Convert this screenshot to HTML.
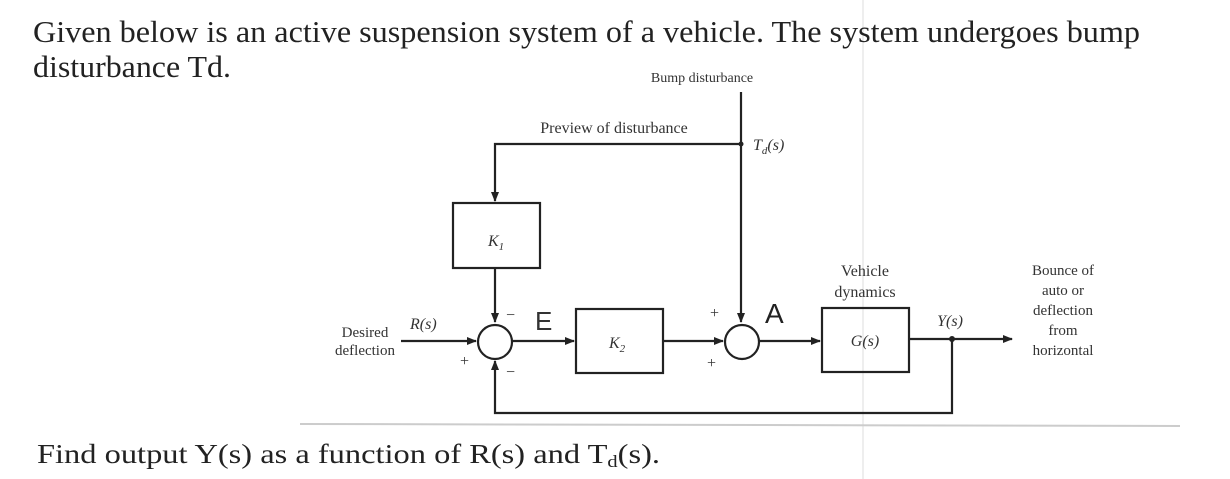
<!DOCTYPE html>
<html><head><meta charset="utf-8"><style>
html,body{margin:0;padding:0;background:#fff;}
svg{display:block;}
</style></head><body>
<svg width="1230" height="479" viewBox="0 0 1230 479" xmlns="http://www.w3.org/2000/svg" font-family="Liberation Serif, serif" fill="#222">
<defs><marker id="a" markerWidth="10" markerHeight="8" refX="9" refY="4" orient="auto" markerUnits="userSpaceOnUse"><path d="M0,0 L10,4 L0,8 z" fill="#222"/></marker></defs>
<line x1="863" y1="0" x2="863" y2="479" stroke="#ddd" stroke-width="1"/>
<text x="33" y="42" font-size="31" textLength="1107" lengthAdjust="spacingAndGlyphs">Given below is an active suspension system of a vehicle. The system undergoes bump</text>
<text x="33" y="77" font-size="31" textLength="198" lengthAdjust="spacingAndGlyphs">disturbance Td.</text>
<text x="37" y="463" font-size="27" textLength="623" lengthAdjust="spacingAndGlyphs">Find output Y(s) as a function of R(s) and T<tspan font-size="17" dy="4">d</tspan><tspan dy="-4">(s).</tspan></text>
<g stroke="#222" stroke-width="2.2" fill="none">
<line x1="741" y1="92" x2="741" y2="322" marker-end="url(#a)"/>
<polyline points="741,144 495,144 495,201" marker-end="url(#a)"/>
<rect x="453" y="203" width="87" height="65"/>
<line x1="495" y1="268" x2="495" y2="322" marker-end="url(#a)"/>
<circle cx="495" cy="342" r="17"/>
<circle cx="742" cy="342" r="17"/>
<line x1="401" y1="341" x2="476" y2="341" marker-end="url(#a)"/>
<line x1="512" y1="341" x2="574" y2="341" marker-end="url(#a)"/>
<rect x="576" y="309" width="87" height="64"/>
<line x1="663" y1="341" x2="723" y2="341" marker-end="url(#a)"/>
<line x1="759" y1="341" x2="820" y2="341" marker-end="url(#a)"/>
<rect x="822" y="308" width="87" height="64"/>
<line x1="909" y1="339" x2="1012" y2="339" marker-end="url(#a)"/>
<polyline points="952,339 952,413 495,413 495,361" marker-end="url(#a)"/>
</g>
<circle cx="952" cy="339" r="3" fill="#222"/>
<circle cx="741" cy="144" r="2.5" fill="#222"/>
<line x1="300" y1="424" x2="1180" y2="426" stroke="#ccc" stroke-width="2"/>
<g font-size="16" fill="#333">
<text x="702" y="82" font-size="14" text-anchor="middle">Bump disturbance</text>
<text x="614" y="133" text-anchor="middle">Preview of disturbance</text>
<text x="753" y="150" font-style="italic">T<tspan font-size="11" dy="4">d</tspan><tspan dy="-4">(s)</tspan></text>
<text x="488" y="246" font-style="italic">K<tspan font-size="11" dy="4">1</tspan></text>
<text x="609" y="348" font-style="italic">K<tspan font-size="11" dy="4">2</tspan></text>
<text x="865" y="346" font-style="italic" text-anchor="middle">G(s)</text>
<text x="865" y="276" text-anchor="middle">Vehicle</text>
<text x="865" y="297" text-anchor="middle">dynamics</text>
<text x="950" y="326" font-style="italic" text-anchor="middle">Y(s)</text>
<text x="410" y="329" font-style="italic">R(s)</text>
<text x="365" y="337" text-anchor="middle" font-size="15">Desired</text>
<text x="365" y="355" text-anchor="middle" font-size="15">deflection</text>
<text x="1063" y="275" text-anchor="middle" font-size="15">Bounce of</text>
<text x="1063" y="295" text-anchor="middle" font-size="15">auto or</text>
<text x="1063" y="315" text-anchor="middle" font-size="15">deflection</text>
<text x="1063" y="335" text-anchor="middle" font-size="15">from</text>
<text x="1063" y="355" text-anchor="middle" font-size="15">horizontal</text>
<text x="460" y="366">+</text>
<text x="506" y="320">−</text>
<text x="506" y="377">−</text>
<text x="710" y="318">+</text>
<text x="707" y="368">+</text>
</g>
<text x="535" y="330" font-family="Liberation Sans, sans-serif" font-size="26" fill="#333">E</text>
<text x="765" y="323" font-family="Liberation Sans, sans-serif" font-size="28" fill="#222">A</text>
</svg>
</body></html>
